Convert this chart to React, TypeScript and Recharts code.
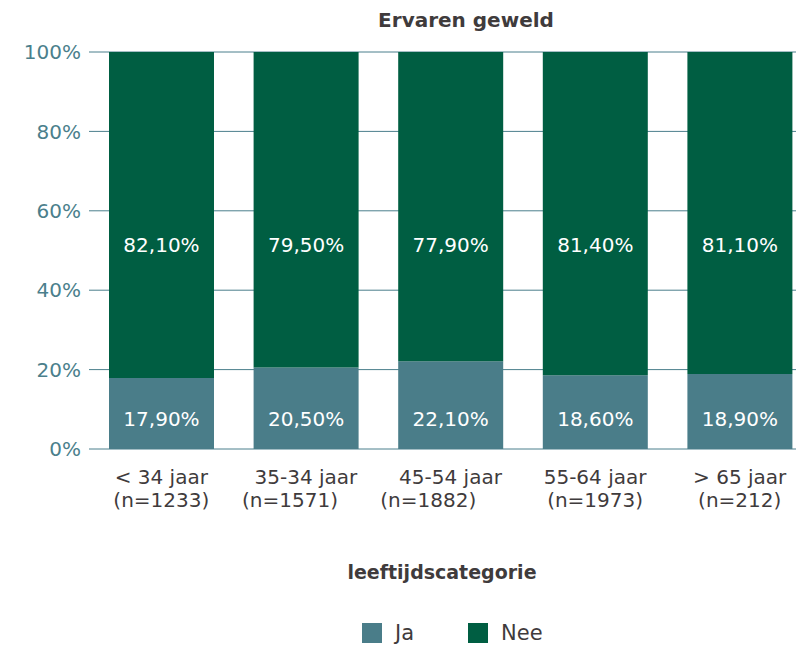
import { Bar, BarChart, CartesianGrid, LabelList, Legend, XAxis, YAxis } from "recharts";

const categories = ["< 34 jaar", "35-34 jaar", "45-54 jaar", "55-64 jaar", "> 65 jaar"];
// trailing no-break spaces keep the uneven wrap of the original labels
const sampleSizes = [
  "(n=1233)",
  "(n=1571)\u00a0\u00a0\u00a0\u00a0\u00a0",
  "(n=1882)\u00a0\u00a0\u00a0\u00a0\u00a0\u00a0\u00a0",
  "(n=1973)",
  "(n=212)",
];
const jaValues = [17.9, 20.5, 22.1, 18.6, 18.9];
const neeValues = [82.1, 79.5, 77.9, 81.4, 81.1];
const yTicks = [0, 20, 40, 60, 80, 100];

const JA = "#4a7d89";
const NEE = "#005e42";
const AXIS = "#4b7f8c";
const TEXT = "#3f3b3c";
const FONT = "'DejaVu Sans', sans-serif";

const data = categories.map((c, i) => ({
  name: c,
  n: sampleSizes[i],
  ja: jaValues[i],
  nee: neeValues[i],
}));

const pct = (v: number) => `${v.toFixed(2).replace(".", ",")}%`;

function CategoryTick({ x, y, payload, index }: any) {
  return (
    <text x={x} y={y} textAnchor="middle" fill={TEXT} fontSize={20} fontFamily={FONT}>
      <tspan x={x} dy={27}>{payload.value}</tspan>
      <tspan x={x} dy={23}>{data[index]?.n ?? sampleSizes[index]}</tspan>
    </text>
  );
}

function NeeLabel({ x, y, width, value }: any) {
  return (
    <text x={x + width / 2} y={y + 193} textAnchor="middle" dominantBaseline="central"
      fill="#ffffff" fontSize={20} fontFamily={FONT}>
      {pct(value)}
    </text>
  );
}

function JaLabel({ x, y, width, height, value }: any) {
  return (
    <text x={x + width / 2} y={y + height - 30} textAnchor="middle" dominantBaseline="central"
      fill="#ffffff" fontSize={20} fontFamily={FONT}>
      {pct(value)}
    </text>
  );
}

function LegendBox() {
  const items = [
    { label: "Ja", color: JA },
    { label: "Nee", color: NEE },
  ];
  return (
    <div style={{ display: "flex", alignItems: "center", height: 26, paddingLeft: 362, fontFamily: FONT, fontSize: 21, color: TEXT }}>
      {items.map((it) => (
        <div key={it.label} style={{ display: "flex", alignItems: "center", marginRight: 54 }}>
          <span style={{ display: "inline-block", width: 20, height: 20, background: it.color, marginRight: 13 }} />
          <span>{it.label}</span>
        </div>
      ))}
    </div>
  );
}

export default function App() {
  return (
    <div style={{ position: "relative", width: 796, height: 646, overflow: "hidden", background: "#fff" }}>
      <style>{"body{margin:0;overflow:hidden}"}</style>
      <div style={{ position: "absolute", top: 8, left: 0, width: 932, textAlign: "center", fontFamily: FONT, fontWeight: 700, fontSize: 20, lineHeight: "24px", color: TEXT, zIndex: 1 }}>
        Ervaren geweld
      </div>
      <BarChart width={830} height={646} data={data} margin={{ top: 52, right: 18, left: 0, bottom: 0 }}>
        <CartesianGrid vertical={false} stroke={AXIS} strokeWidth={1} />
        <XAxis
          dataKey="name"
          axisLine={false}
          tickLine={false}
          interval={0}
          height={171}
          tick={<CategoryTick />}
          label={({ viewBox }: any) => (
            <text x={442} y={viewBox.y + 123} textAnchor="middle" dominantBaseline="central"
              fill={TEXT} fontSize={19} fontWeight={700} fontFamily={FONT}>
              leeftijdscategorie
            </text>
          )}
        />
        <YAxis
          width={89}
          domain={[0, 100]}
          ticks={yTicks}
          axisLine={false}
          tickLine={false}
          tickFormatter={(v) => `${v}%`}
          tick={{ fill: AXIS, fontSize: 20, fontFamily: FONT }}
        />
        <Legend verticalAlign="bottom" align="left" content={<LegendBox />} />
        <Bar dataKey="ja" name="Ja" stackId="a" fill={JA} barSize={105} isAnimationActive={false}>
          <LabelList dataKey="ja" content={<JaLabel />} />
        </Bar>
        <Bar dataKey="nee" name="Nee" stackId="a" fill={NEE} barSize={105} isAnimationActive={false}>
          <LabelList dataKey="nee" content={<NeeLabel />} />
        </Bar>
      </BarChart>
    </div>
  );
}
